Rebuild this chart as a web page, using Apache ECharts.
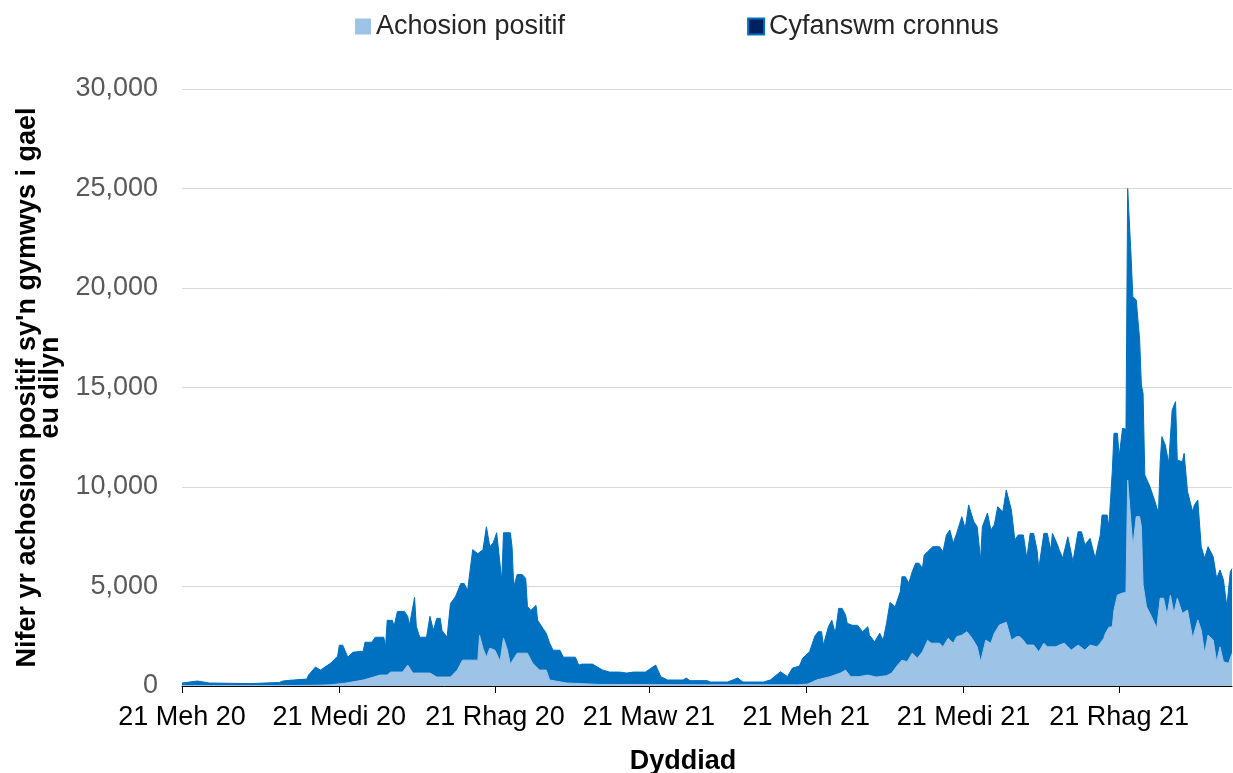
<!DOCTYPE html>
<html>
<head>
<meta charset="utf-8">
<title>Achosion positif</title>
<script src="https://cdn.jsdelivr.net/npm/echarts@6.0.0/dist/echarts.min.js"></script>
<style>
  html, body { margin: 0; padding: 0; background: #fff; }
  #chart { width: 1233px; height: 773px; }
</style>
</head>
<body>
<div id="chart"></div>
<script>
// first date on the axis, everything else counted in days from here
const startDate = '2020-06-21';
const lastDay = 614;
const DAY = 86400000;

// [days since 21 Meh 20, value]
const cyfanswmCronnus = [
  [0,150],[9,250],[16,150],[40,120],[57,180],[59,250],[65,300],[73,350],[74,550],[78,950],[81,800],[87,1150],[91,1500],
  [92,2050],[94,2050],[97,1450],[100,1700],[106,1750],[107,2200],[111,2200],[113,2450],[118,2450],[119,1950],[120,3300],
  [123,3300],[124,3000],[126,3750],[130,3750],[132,3500],[133,3050],[136,4450],[137,3000],[139,2450],[143,2450],[145,3500],
  [147,2800],[149,3400],[151,3400],[152,2800],[155,2450],[157,4150],[160,4500],[163,5150],[165,5150],[167,4800],[170,6850],
  [173,6650],[176,6850],[178,8000],[180,7000],[182,7200],[184,7700],[187,5300],[188,7700],[192,7700],[193,7000],[194,5000],
  [196,5600],[199,5600],[201,5400],[202,4000],[204,3800],[207,4050],[208,3300],[211,2900],[213,2650],[215,2150],[217,1800],
  [221,1800],[223,1450],[230,1450],[232,1050],[234,1100],[240,1100],[243,950],[246,800],[250,700],[256,700],[260,650],
  [264,700],[271,700],[277,1050],[280,470],[284,300],[293,300],[295,400],[297,270],[307,270],[309,200],[319,200],[325,400],
  [328,200],[340,200],[344,300],[350,720],[354,470],[357,900],[361,1000],[363,1400],[367,1720],[370,2500],[372,2730],
  [374,2730],[375,2050],[378,2980],[380,3300],[382,2650],[384,3900],[386,3900],[388,3570],[389,3150],[392,3050],[395,3050],
  [398,2730],[401,2980],[402,2550],[405,2220],[408,2650],[410,2300],[412,3150],[414,4200],[417,3980],[420,4730],[421,5490],
  [423,5490],[425,5170],[427,5740],[429,6170],[431,6170],[433,5920],[434,6580],[436,6750],[439,7000],[443,7000],[444,7080],
  [445,6750],[447,7590],[449,7840],[451,7170],[453,7670],[456,8510],[458,7920],[460,9100],[463,8260],[465,8000],[467,6330],
  [468,8000],[471,8690],[473,7840],[475,8090],[477,9010],[480,8760],[482,9850],[485,8840],[487,7340],[489,7590],[492,7590],
  [494,6420],[496,7670],[498,7670],[500,6830],[501,5910],[504,7670],[506,7670],[508,6830],[509,7670],[512,7090],[513,6830],
  [515,6420],[518,7500],[519,7500],[521,6250],[524,7750],[526,7750],[528,7090],[531,7420],[534,6420],[537,7600],[538,8590],
  [541,8590],[542,8000],[544,10800],[545,12700],[547,12700],[548,11520],[550,12950],[552,12900],[553,25000],[555,21570],
  [556,19560],[558,19400],[560,17390],[561,15130],[562,14700],[563,10600],[566,10020],[569,9260],[571,8680],[572,11270],
  [573,12530],[575,12110],[577,11190],[579,13870],[581,14290],[582,11360],[585,11270],[586,11690],[588,9760],[591,8760],
  [592,9090],[594,9350],[596,7000],[598,6420],[600,7000],[603,6500],[605,5410],[607,5830],[609,5330],[611,3990],[613,5740],
  [614,5900]
];

const achosionPositif = [
  [0,20],[60,20],[80,40],[87,60],[96,150],[106,300],[110,400],[116,550],[120,550],[122,700],[129,700],[132,1050],[135,650],
  [145,650],[149,450],[157,450],[161,800],[164,1300],[173,1300],[174,2550],[176,1900],[178,1450],[180,1900],[183,1800],
  [186,1250],[188,2400],[190,1900],[192,1100],[196,1650],[202,1650],[205,1150],[209,800],[213,800],[215,300],[225,150],
  [244,80],[303,60],[360,60],[366,100],[371,300],[379,470],[385,650],[388,800],[391,470],[396,470],[401,550],[406,450],
  [412,520],[415,650],[418,1000],[421,1300],[424,1220],[427,1650],[430,1400],[433,1720],[436,2300],[438,2150],[443,2150],
  [445,1970],[448,2400],[451,2150],[453,2480],[456,2550],[459,2730],[462,2400],[465,1970],[467,1220],[470,2300],[473,2150],
  [475,2650],[478,3070],[482,3200],[485,2300],[488,2480],[490,2480],[492,2300],[494,2060],[498,2060],[501,1720],[504,2150],
  [506,1970],[511,1970],[513,2060],[516,2150],[520,1800],[524,2060],[528,1800],[531,2060],[535,1970],[537,2150],[539,2400],
  [540,2650],[542,2950],[544,2980],[545,3820],[547,4570],[548,4670],[550,4670],[552,4700],[553,10350],[556,7000],[558,8510],
  [560,8510],[561,8000],[562,5100],[564,3990],[567,3480],[570,2900],[572,4410],[574,4410],[576,3570],[578,4570],[580,3650],
  [582,4410],[585,3650],[588,3820],[591,2400],[594,3320],[596,2810],[598,1640],[600,2560],[603,2310],[605,1220],[607,1970],
  [609,1220],[612,1140],[614,1640]
];

// ticks on the date axis
const tickDates = ['2020-06-21','2020-09-21','2020-12-21','2021-03-21','2021-06-21','2021-09-21','2021-12-21'];
const tickLabels = ['21 Meh 20','21 Medi 20','21 Rhag 20','21 Maw 21','21 Meh 21','21 Medi 21','21 Rhag 21'];

const seriesNames = ['Achosion positif', 'Cyfanswm cronnus'];

const tickDays = tickDates.map(d => Math.round((Date.parse(d) - Date.parse(startDate)) / DAY));

const FONT = 'Liberation Sans, Arial, sans-serif';

const chart = echarts.init(document.getElementById('chart'));

const option = {
  animation: false,
  backgroundColor: '#fff',
  textStyle: { fontFamily: FONT },
  legend: {
    left: 350,
    top: 8,
    itemWidth: 16,
    itemHeight: 16,
    itemGap: 182,
    icon: 'rect',
    textStyle: { fontSize: 27, color: '#262626', fontFamily: FONT },
    data: [
      { name: seriesNames[0], itemStyle: { color: '#9DC3E6' } },
      { name: seriesNames[1], itemStyle: { color: '#002060', borderColor: '#0070C0', borderWidth: 2 } }
    ]
  },
  grid: { left: 182, right: 1, top: 89, bottom: 87, containLabel: false, outerBoundsMode: 'none' },
  xAxis: {
    type: 'value',
    min: 0,
    max: lastDay,
    name: 'Dyddiad',
    nameLocation: 'middle',
    nameGap: 62,
    nameTextStyle: { fontSize: 27, fontWeight: 'bold', color: '#000', fontFamily: FONT, padding: [0, 48, 0, 0] },
    axisLine: { show: true, lineStyle: { color: '#000', width: 1 } },
    axisTick: { show: true, length: 7, lineStyle: { color: '#000' }, customValues: tickDays },
    axisLabel: {
      fontSize: 27,
      color: '#000',
      margin: 18,
      customValues: tickDays,
      formatter: v => tickLabels[tickDays.indexOf(Math.round(v))] || ''
    },
    splitLine: { show: false }
  },
  yAxis: {
    type: 'value',
    min: 0,
    max: 30000,
    interval: 5000,
    name: "Nifer yr achosion positif sy'n gymwys i gael\neu dilyn",
    nameLocation: 'middle',
    nameRotate: 90,
    nameGap: 120,
    nameTextStyle: { fontSize: 27, fontWeight: 'bold', color: '#000', lineHeight: 23, fontFamily: FONT },
    axisLine: { show: false },
    axisTick: { show: false },
    axisLabel: {
      fontSize: 27,
      color: '#595959',
      margin: 24,
      formatter: v => String(v).replace(/\B(?=(\d{3})+(?!\d))/g, ',')
    },
    splitLine: { lineStyle: { color: '#D9D9D9', width: 1 } }
  },
  series: [
    {
      name: seriesNames[1],
      type: 'line',
      data: cyfanswmCronnus,
      showSymbol: false,
      lineStyle: { color: '#0070C0', width: 1 },
      itemStyle: { color: '#0070C0' },
      areaStyle: { color: '#0070C0', opacity: 1 },
      z: 2
    },
    {
      name: seriesNames[0],
      type: 'line',
      data: achosionPositif,
      showSymbol: false,
      lineStyle: { color: '#9DC3E6', width: 1 },
      itemStyle: { color: '#9DC3E6' },
      areaStyle: { color: '#9DC3E6', opacity: 1 },
      z: 3
    }
  ]
};

chart.setOption(option);
</script>
</body>
</html>
